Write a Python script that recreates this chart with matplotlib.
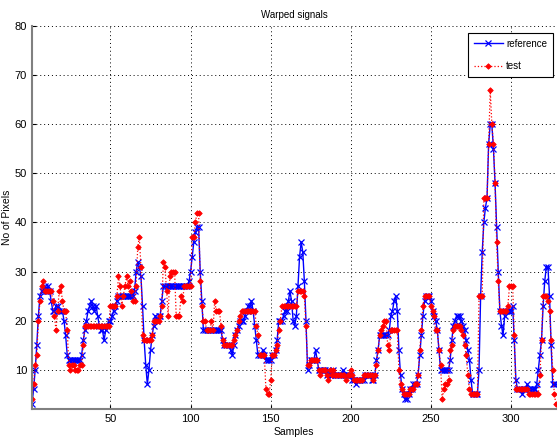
import matplotlib.pyplot as plt
import numpy as np

# values, one per sample (1..328)
reference = [
    3, 6, 10, 15, 21, 25, 26, 26, 27, 26,
    27, 26, 24, 22, 22, 23, 23, 22, 22, 22,
    20, 17, 13, 12, 12, 12, 12, 12, 12, 12,
    12, 13, 16, 18, 20, 22, 23, 24, 23, 22,
    23, 21, 19, 18, 18, 16, 18, 19, 20, 20,
    21, 22, 23, 24, 25, 25, 25, 25, 25, 25,
    25, 25, 25, 25, 26, 30, 32, 31, 29, 23,
    16, 11, 7, 10, 14, 17, 19, 21, 20, 21,
    21, 24, 27, 27, 27, 27, 27, 27, 27, 27,
    27, 27, 27, 27, 27, 27, 27, 27, 28, 30,
    33, 36, 38, 39, 39, 30, 24, 18, 18, 18,
    18, 18, 18, 18, 18, 18, 18, 18, 18, 16,
    15, 15, 15, 15, 14, 13, 15, 17, 18, 19,
    20, 20, 20, 21, 22, 23, 23, 24, 22, 19,
    16, 13, 13, 13, 14, 13, 12, 12, 12, 12,
    13, 13, 14, 16, 20, 20, 20, 21, 22, 22,
    24, 26, 24, 20, 19, 21, 27, 33, 36, 34,
    28, 20, 10, 11, 12, 12, 12, 14, 12, 10,
    10, 10, 10, 10, 9, 10, 9, 9, 10, 9,
    9, 9, 9, 9, 10, 9, 9, 9, 9, 9,
    8, 8, 7, 8, 8, 8, 8, 8, 9, 9,
    9, 9, 8, 8, 9, 12, 14, 17, 17, 17,
    17, 17, 17, 18, 21, 22, 24, 25, 22, 14,
    9, 6, 5, 4, 4, 5, 6, 6, 7, 7,
    7, 9, 13, 17, 21, 24, 25, 25, 25, 24,
    22, 21, 20, 18, 14, 10, 10, 10, 10, 10,
    10, 12, 16, 19, 20, 21, 21, 21, 20, 19,
    18, 16, 14, 12, 8, 5, 5, 5, 5, 10,
    25, 34, 40, 43, 45, 56, 60, 60, 55, 48,
    39, 30, 22, 19, 17, 21, 22, 22, 22, 22,
    23, 16, 8, 6, 6, 6, 5, 6, 6, 7,
    6, 6, 6, 6, 6, 7, 10, 13, 16, 23,
    28, 31, 31, 25, 15, 7, 7, 7,
]

test = [
    4, 7, 11, 13, 20, 24, 27, 28, 26, 26,
    26, 26, 26, 24, 21, 18, 22, 26, 27, 24,
    22, 22, 18, 11, 10, 11, 11, 10, 10, 10,
    11, 11, 15, 19, 19, 19, 19, 19, 19, 19,
    19, 19, 19, 19, 19, 19, 19, 19, 19, 23,
    23, 23, 23, 25, 29, 27, 23, 25, 27, 29,
    27, 28, 26, 24, 24, 27, 35, 37, 31, 17,
    16, 16, 16, 16, 16, 17, 20, 20, 20, 20,
    21, 23, 32, 31, 26, 21, 29, 30, 30, 30,
    21, 21, 21, 25, 24, 27, 27, 27, 27, 27,
    37, 37, 40, 42, 42, 28, 23, 20, 20, 18,
    18, 18, 20, 18, 24, 22, 22, 22, 19, 16,
    15, 15, 15, 15, 15, 15, 16, 17, 18, 20,
    21, 22, 22, 22, 22, 22, 22, 22, 22, 22,
    19, 17, 13, 13, 13, 13, 6, 5, 5, 8,
    13, 13, 14, 15, 18, 20, 23, 23, 23, 23,
    23, 23, 23, 23, 23, 23, 26, 26, 26, 26,
    25, 19, 11, 11, 12, 12, 12, 12, 12, 10,
    9, 10, 10, 10, 9, 8, 10, 9, 10, 9,
    9, 9, 9, 9, 9, 9, 8, 9, 9, 10,
    9, 8, 8, 8, 8, 8, 8, 9, 9, 9,
    9, 9, 9, 8, 9, 11, 14, 17, 18, 19,
    20, 20, 15, 14, 18, 18, 18, 18, 18, 10,
    7, 6, 5, 5, 5, 5, 6, 6, 6, 7,
    7, 9, 14, 18, 23, 25, 25, 25, 25, 23,
    22, 21, 18, 18, 14, 11, 4, 6, 7, 7,
    8, 14, 15, 18, 19, 19, 19, 19, 18, 17,
    15, 13, 9, 6, 5, 5, 5, 5, 5, 25,
    25, 25, 45, 45, 45, 56, 67, 60, 56, 48,
    36, 28, 22, 22, 22, 22, 22, 23, 27, 27,
    27, 17, 6, 6, 6, 6, 6, 6, 6, 6,
    5, 5, 5, 5, 5, 5, 5, 9, 16, 25,
    25, 25, 24, 22, 16, 10, 5, 3,
]

samples = np.arange(1, len(reference) + 1)

plt.rcParams['font.family'] = ['Liberation Sans Narrow', 'Liberation Sans', 'DejaVu Sans']

fig = plt.figure(figsize=(5.58, 4.43), dpi=100)
ax = fig.add_axes([0.0573, 0.0767, 0.939, 0.8646])

ax.plot(samples, reference, color='blue', linestyle='-', linewidth=1.0,
        marker='x', markersize=4.5, markeredgewidth=0.9, label='reference')
ax.plot(samples, test, color='red', linestyle=':', linewidth=0.9,
        marker='D', markersize=2.8, markeredgewidth=0.6, label='test')

ax.set_xlim(1, 328)
ax.set_ylim(2, 80)
ax.set_xticks([50, 100, 150, 200, 250, 300])
ax.set_yticks([10, 20, 30, 40, 50, 60, 70, 80])

ax.grid(True, color='black', linestyle=(0, (1, 3)), linewidth=0.7)
ax.set_axisbelow(True)
ax.spines['top'].set_visible(False)
ax.spines['right'].set_visible(False)
for side in ['left', 'bottom']:
    ax.spines[side].set_color('#808080')
    ax.spines[side].set_linewidth(1.5)
ax.tick_params(direction='in', length=3, width=0.8, labelsize=8, colors='black')

ax.set_title('Warped signals', fontsize=7, pad=6)
ax.set_xlabel('Samples', fontsize=7.5, labelpad=2)
ax.set_ylabel('No of Pixels', fontsize=7.5, labelpad=2)

leg = ax.legend(loc='upper right', bbox_to_anchor=(0.994, 0.982), borderaxespad=0,
                fontsize=7, fancybox=False, framealpha=1, edgecolor='black',
                handlelength=3.0, handletextpad=0.3, borderpad=0.6, labelspacing=1.3)
leg.get_frame().set_linewidth(0.8)

fig.savefig('out.png', dpi=100)
